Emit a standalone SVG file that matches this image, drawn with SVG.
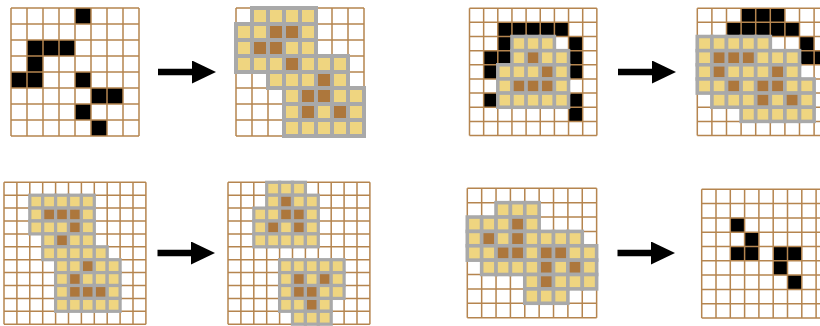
<svg xmlns="http://www.w3.org/2000/svg" xmlns:xlink="http://www.w3.org/1999/xlink" width="820" height="326" viewBox="0 0 820 326">
<style>
.g{fill:none;stroke:#b5854f;stroke-width:1.5;vector-effect:non-scaling-stroke}
.k{fill:#000}
.y{fill:#efd580;stroke:#a9a9a9;stroke-width:0.25}
.b{fill:#ad773c;stroke:#a9a9a9;stroke-width:0.25}
.ar{stroke:#000;stroke-width:6.5;fill:none}
</style>
<defs>
<path id="g8" class="g" d="M0 0H8M0 1H8M0 2H8M0 3H8M0 4H8M0 5H8M0 6H8M0 7H8M0 8H8M0 0V8M1 0V8M2 0V8M3 0V8M4 0V8M5 0V8M6 0V8M7 0V8M8 0V8"/>
<path id="g9" class="g" d="M0 0H9M0 1H9M0 2H9M0 3H9M0 4H9M0 5H9M0 6H9M0 7H9M0 8H9M0 9H9M0 0V9M1 0V9M2 0V9M3 0V9M4 0V9M5 0V9M6 0V9M7 0V9M8 0V9M9 0V9"/>
<path id="g11" class="g" d="M0 0H11M0 1H11M0 2H11M0 3H11M0 4H11M0 5H11M0 6H11M0 7H11M0 8H11M0 9H11M0 10H11M0 11H11M0 0V11M1 0V11M2 0V11M3 0V11M4 0V11M5 0V11M6 0V11M7 0V11M8 0V11M9 0V11M10 0V11M11 0V11"/>
<rect id="c" width="1" height="1"/>
<marker id="ah" markerUnits="userSpaceOnUse" viewBox="0 0 24 23" markerWidth="24" markerHeight="23" refX="0.5" refY="11.5" orient="auto">
<path d="M0 0L24 11.5L0 23Z" fill="#000"/>
</marker>
</defs>
<rect width="820" height="326" fill="#fff"/>

<g id="grid1" transform="translate(11,8) scale(16)">
<use href="#c" class="k" x="4" y="0"/><use href="#c" class="k" x="1" y="2"/><use href="#c" class="k" x="2" y="2"/><use href="#c" class="k" x="3" y="2"/><use href="#c" class="k" x="1" y="3"/><use href="#c" class="k" x="0" y="4"/><use href="#c" class="k" x="1" y="4"/><use href="#c" class="k" x="4" y="4"/><use href="#c" class="k" x="5" y="5"/><use href="#c" class="k" x="6" y="5"/><use href="#c" class="k" x="4" y="6"/><use href="#c" class="k" x="5" y="7"/>
<use href="#g8"/>
</g>

<g id="grid2" transform="translate(236,8) scale(16)">
<use href="#g8"/>
<use href="#c" class="y" x="1" y="0"/><use href="#c" class="y" x="2" y="0"/><use href="#c" class="y" x="3" y="0"/><use href="#c" class="y" x="4" y="0"/>
<use href="#c" class="y" x="0" y="1"/><use href="#c" class="y" x="1" y="1"/><use href="#c" class="b" x="2" y="1"/><use href="#c" class="b" x="3" y="1"/><use href="#c" class="y" x="4" y="1"/>
<use href="#c" class="y" x="0" y="2"/><use href="#c" class="b" x="1" y="2"/><use href="#c" class="b" x="2" y="2"/><use href="#c" class="y" x="3" y="2"/><use href="#c" class="y" x="4" y="2"/>
<use href="#c" class="y" x="0" y="3"/><use href="#c" class="y" x="1" y="3"/><use href="#c" class="y" x="2" y="3"/><use href="#c" class="b" x="3" y="3"/><use href="#c" class="y" x="4" y="3"/><use href="#c" class="y" x="5" y="3"/><use href="#c" class="y" x="6" y="3"/>
<use href="#c" class="y" x="2" y="4"/><use href="#c" class="y" x="3" y="4"/><use href="#c" class="y" x="4" y="4"/><use href="#c" class="b" x="5" y="4"/><use href="#c" class="y" x="6" y="4"/>
<use href="#c" class="y" x="3" y="5"/><use href="#c" class="b" x="4" y="5"/><use href="#c" class="b" x="5" y="5"/><use href="#c" class="y" x="6" y="5"/><use href="#c" class="y" x="7" y="5"/>
<use href="#c" class="y" x="3" y="6"/><use href="#c" class="b" x="4" y="6"/><use href="#c" class="y" x="5" y="6"/><use href="#c" class="b" x="6" y="6"/><use href="#c" class="y" x="7" y="6"/>
<use href="#c" class="y" x="3" y="7"/><use href="#c" class="y" x="4" y="7"/><use href="#c" class="y" x="5" y="7"/><use href="#c" class="y" x="6" y="7"/><use href="#c" class="y" x="7" y="7"/>
</g>

<g id="grid3" transform="translate(469.5,8.2) scale(14.15)">
<use href="#c" class="k" x="2" y="1"/><use href="#c" class="k" x="3" y="1"/><use href="#c" class="k" x="4" y="1"/><use href="#c" class="k" x="5" y="1"/><use href="#c" class="k" x="6" y="1"/>
<use href="#c" class="k" x="2" y="2"/><use href="#c" class="k" x="7" y="2"/>
<use href="#c" class="k" x="1" y="3"/><use href="#c" class="k" x="2" y="3"/><use href="#c" class="k" x="7" y="3"/>
<use href="#c" class="k" x="1" y="4"/><use href="#c" class="k" x="7" y="4"/>
<use href="#c" class="k" x="1" y="6"/><use href="#c" class="k" x="7" y="6"/><use href="#c" class="k" x="7" y="7"/>
<use href="#g9"/>
<use href="#c" class="y" x="3" y="2"/><use href="#c" class="y" x="4" y="2"/><use href="#c" class="y" x="5" y="2"/>
<use href="#c" class="y" x="3" y="3"/><use href="#c" class="b" x="4" y="3"/><use href="#c" class="y" x="5" y="3"/><use href="#c" class="y" x="6" y="3"/>
<use href="#c" class="y" x="2" y="4"/><use href="#c" class="y" x="3" y="4"/><use href="#c" class="y" x="4" y="4"/><use href="#c" class="b" x="5" y="4"/><use href="#c" class="y" x="6" y="4"/>
<use href="#c" class="y" x="2" y="5"/><use href="#c" class="b" x="3" y="5"/><use href="#c" class="b" x="4" y="5"/><use href="#c" class="b" x="5" y="5"/><use href="#c" class="y" x="6" y="5"/>
<use href="#c" class="y" x="2" y="6"/><use href="#c" class="y" x="3" y="6"/><use href="#c" class="y" x="4" y="6"/><use href="#c" class="y" x="5" y="6"/><use href="#c" class="y" x="6" y="6"/>
</g>

<g id="grid4" transform="translate(697.3,8.2) scale(14.6,14.15)">
<use href="#c" class="k" x="3" y="0"/><use href="#c" class="k" x="4" y="0"/><use href="#c" class="k" x="5" y="0"/>
<use href="#c" class="k" x="2" y="1"/><use href="#c" class="k" x="3" y="1"/><use href="#c" class="k" x="4" y="1"/><use href="#c" class="k" x="5" y="1"/><use href="#c" class="k" x="6" y="1"/>
<use href="#c" class="k" x="7" y="2"/><use href="#c" class="k" x="7" y="3"/><use href="#c" class="k" x="8" y="3"/>
<use href="#g9"/>
<use href="#c" class="y" x="0" y="2"/><use href="#c" class="y" x="1" y="2"/><use href="#c" class="y" x="2" y="2"/><use href="#c" class="y" x="3" y="2"/><use href="#c" class="y" x="4" y="2"/>
<use href="#c" class="y" x="0" y="3"/><use href="#c" class="b" x="1" y="3"/><use href="#c" class="b" x="2" y="3"/><use href="#c" class="b" x="3" y="3"/><use href="#c" class="y" x="4" y="3"/><use href="#c" class="y" x="5" y="3"/><use href="#c" class="y" x="6" y="3"/>
<use href="#c" class="y" x="0" y="4"/><use href="#c" class="b" x="1" y="4"/><use href="#c" class="y" x="2" y="4"/><use href="#c" class="y" x="3" y="4"/><use href="#c" class="y" x="4" y="4"/><use href="#c" class="b" x="5" y="4"/><use href="#c" class="y" x="6" y="4"/>
<use href="#c" class="y" x="0" y="5"/><use href="#c" class="y" x="1" y="5"/><use href="#c" class="b" x="2" y="5"/><use href="#c" class="y" x="3" y="5"/><use href="#c" class="b" x="4" y="5"/><use href="#c" class="b" x="5" y="5"/><use href="#c" class="y" x="6" y="5"/><use href="#c" class="y" x="7" y="5"/>
<use href="#c" class="y" x="1" y="6"/><use href="#c" class="y" x="2" y="6"/><use href="#c" class="y" x="3" y="6"/><use href="#c" class="b" x="4" y="6"/><use href="#c" class="y" x="5" y="6"/><use href="#c" class="b" x="6" y="6"/><use href="#c" class="y" x="7" y="6"/>
<use href="#c" class="y" x="3" y="7"/><use href="#c" class="y" x="4" y="7"/><use href="#c" class="y" x="5" y="7"/><use href="#c" class="y" x="6" y="7"/><use href="#c" class="y" x="7" y="7"/>
</g>

<g id="grid5" transform="translate(4,182.3) scale(12.9)">
<use href="#g11"/>
<use href="#c" class="y" x="2" y="1"/><use href="#c" class="y" x="3" y="1"/><use href="#c" class="y" x="4" y="1"/><use href="#c" class="y" x="5" y="1"/><use href="#c" class="y" x="6" y="1"/>
<use href="#c" class="y" x="2" y="2"/><use href="#c" class="b" x="3" y="2"/><use href="#c" class="b" x="4" y="2"/><use href="#c" class="b" x="5" y="2"/><use href="#c" class="y" x="6" y="2"/>
<use href="#c" class="y" x="2" y="3"/><use href="#c" class="y" x="3" y="3"/><use href="#c" class="y" x="4" y="3"/><use href="#c" class="b" x="5" y="3"/><use href="#c" class="y" x="6" y="3"/>
<use href="#c" class="y" x="3" y="4"/><use href="#c" class="b" x="4" y="4"/><use href="#c" class="y" x="5" y="4"/><use href="#c" class="y" x="6" y="4"/>
<use href="#c" class="y" x="3" y="5"/><use href="#c" class="y" x="4" y="5"/><use href="#c" class="y" x="5" y="5"/><use href="#c" class="y" x="6" y="5"/><use href="#c" class="y" x="7" y="5"/>
<use href="#c" class="y" x="4" y="6"/><use href="#c" class="y" x="5" y="6"/><use href="#c" class="b" x="6" y="6"/><use href="#c" class="y" x="7" y="6"/><use href="#c" class="y" x="8" y="6"/>
<use href="#c" class="y" x="4" y="7"/><use href="#c" class="b" x="5" y="7"/><use href="#c" class="y" x="6" y="7"/><use href="#c" class="y" x="7" y="7"/><use href="#c" class="y" x="8" y="7"/>
<use href="#c" class="y" x="4" y="8"/><use href="#c" class="b" x="5" y="8"/><use href="#c" class="b" x="6" y="8"/><use href="#c" class="b" x="7" y="8"/><use href="#c" class="y" x="8" y="8"/>
<use href="#c" class="y" x="4" y="9"/><use href="#c" class="y" x="5" y="9"/><use href="#c" class="y" x="6" y="9"/><use href="#c" class="y" x="7" y="9"/><use href="#c" class="y" x="8" y="9"/>
</g>

<g id="grid6" transform="translate(228,182.3) scale(12.9)">
<use href="#g11"/>
<use href="#c" class="y" x="3" y="0"/><use href="#c" class="y" x="4" y="0"/><use href="#c" class="y" x="5" y="0"/>
<use href="#c" class="y" x="3" y="1"/><use href="#c" class="b" x="4" y="1"/><use href="#c" class="y" x="5" y="1"/><use href="#c" class="y" x="6" y="1"/>
<use href="#c" class="y" x="2" y="2"/><use href="#c" class="y" x="3" y="2"/><use href="#c" class="b" x="4" y="2"/><use href="#c" class="b" x="5" y="2"/><use href="#c" class="y" x="6" y="2"/>
<use href="#c" class="y" x="2" y="3"/><use href="#c" class="b" x="3" y="3"/><use href="#c" class="y" x="4" y="3"/><use href="#c" class="b" x="5" y="3"/><use href="#c" class="y" x="6" y="3"/>
<use href="#c" class="y" x="2" y="4"/><use href="#c" class="y" x="3" y="4"/><use href="#c" class="y" x="4" y="4"/><use href="#c" class="y" x="5" y="4"/><use href="#c" class="y" x="6" y="4"/>
<use href="#c" class="y" x="4" y="6"/><use href="#c" class="y" x="5" y="6"/><use href="#c" class="y" x="6" y="6"/><use href="#c" class="y" x="7" y="6"/><use href="#c" class="y" x="8" y="6"/>
<use href="#c" class="y" x="4" y="7"/><use href="#c" class="b" x="5" y="7"/><use href="#c" class="y" x="6" y="7"/><use href="#c" class="b" x="7" y="7"/><use href="#c" class="y" x="8" y="7"/>
<use href="#c" class="y" x="4" y="8"/><use href="#c" class="b" x="5" y="8"/><use href="#c" class="b" x="6" y="8"/><use href="#c" class="y" x="7" y="8"/><use href="#c" class="y" x="8" y="8"/>
<use href="#c" class="y" x="4" y="9"/><use href="#c" class="y" x="5" y="9"/><use href="#c" class="b" x="6" y="9"/><use href="#c" class="y" x="7" y="9"/>
<use href="#c" class="y" x="5" y="10"/><use href="#c" class="y" x="6" y="10"/><use href="#c" class="y" x="7" y="10"/>
</g>

<g id="grid7" transform="translate(467.3,188.3) scale(14.37)">
<use href="#g9"/>
<use href="#c" class="y" x="2" y="1"/><use href="#c" class="y" x="3" y="1"/><use href="#c" class="y" x="4" y="1"/>
<use href="#c" class="y" x="0" y="2"/><use href="#c" class="y" x="1" y="2"/><use href="#c" class="y" x="2" y="2"/><use href="#c" class="b" x="3" y="2"/><use href="#c" class="y" x="4" y="2"/>
<use href="#c" class="y" x="0" y="3"/><use href="#c" class="b" x="1" y="3"/><use href="#c" class="y" x="2" y="3"/><use href="#c" class="b" x="3" y="3"/><use href="#c" class="y" x="4" y="3"/><use href="#c" class="y" x="5" y="3"/><use href="#c" class="y" x="6" y="3"/><use href="#c" class="y" x="7" y="3"/>
<use href="#c" class="y" x="0" y="4"/><use href="#c" class="y" x="1" y="4"/><use href="#c" class="b" x="2" y="4"/><use href="#c" class="b" x="3" y="4"/><use href="#c" class="y" x="4" y="4"/><use href="#c" class="b" x="5" y="4"/><use href="#c" class="b" x="6" y="4"/><use href="#c" class="y" x="7" y="4"/><use href="#c" class="y" x="8" y="4"/>
<use href="#c" class="y" x="1" y="5"/><use href="#c" class="y" x="2" y="5"/><use href="#c" class="y" x="3" y="5"/><use href="#c" class="y" x="4" y="5"/><use href="#c" class="b" x="5" y="5"/><use href="#c" class="y" x="6" y="5"/><use href="#c" class="b" x="7" y="5"/><use href="#c" class="y" x="8" y="5"/>
<use href="#c" class="y" x="4" y="6"/><use href="#c" class="b" x="5" y="6"/><use href="#c" class="y" x="6" y="6"/><use href="#c" class="y" x="7" y="6"/><use href="#c" class="y" x="8" y="6"/>
<use href="#c" class="y" x="4" y="7"/><use href="#c" class="y" x="5" y="7"/><use href="#c" class="y" x="6" y="7"/>
</g>

<g id="grid8" transform="translate(701.7,189.3) scale(14.3)">
<use href="#c" class="k" x="2" y="2"/><use href="#c" class="k" x="3" y="3"/><use href="#c" class="k" x="2" y="4"/><use href="#c" class="k" x="3" y="4"/><use href="#c" class="k" x="5" y="4"/><use href="#c" class="k" x="6" y="4"/><use href="#c" class="k" x="5" y="5"/><use href="#c" class="k" x="6" y="6"/>
<use href="#g9"/>
</g>

<g id="connectors">
<line class="ar" x1="158" y1="72" x2="192.5" y2="72" marker-end="url(#ah)"/>
<line class="ar" x1="618" y1="72" x2="652.5" y2="72" marker-end="url(#ah)"/>
<line class="ar" x1="157.5" y1="253" x2="191.5" y2="253" marker-end="url(#ah)"/>
<line class="ar" x1="617.5" y1="253" x2="651.5" y2="253" marker-end="url(#ah)"/>
</g>
</svg>
